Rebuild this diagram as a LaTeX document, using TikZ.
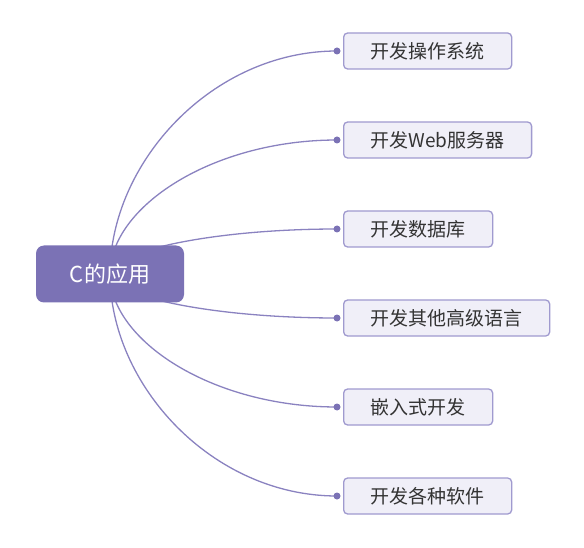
\documentclass[tikz,border=0pt]{standalone}
\usepackage{fontspec}
\setmainfont{Noto Sans CJK SC}
\usetikzlibrary{positioning,calc,backgrounds}
\definecolor{rootpurple}{HTML}{7B72B5}
\definecolor{linepurple}{HTML}{8A82C0}
\definecolor{leafborder}{HTML}{A09ACF}
\definecolor{leaffill}{HTML}{F0EFF8}
\definecolor{leaftext}{HTML}{333333}

\begin{document}
\begin{tikzpicture}[x=1pt, y=-1pt,
rootnode/.style={rectangle, rounded corners=8pt, fill=rootpurple, text=white, minimum width=148pt, minimum height=57pt, font=\fontsize{22}{26}\selectfont},
leafnode/.style={rectangle, rounded corners=4pt, draw=leafborder, line width=1.3pt, fill=leaffill, text=leaftext, minimum height=36pt, inner xsep=27pt, inner ysep=3pt, font=\fontsize{19}{23}\selectfont},
branch/.style={draw=linepurple, line width=1.3pt, to path={.. controls ($(\tikztostart)!0.5!(\tikztostart |- \tikztotarget)$) and ($(\tikztostart |- \tikztotarget)!0.45!(\tikztotarget)$) .. (\tikztotarget)}},
joint/.style={fill=rootpurple},
]
    \useasboundingbox (0,0) rectangle (584,548);
    \node[rootnode] (root) at (110,274) {C的应用};
    \node[leafnode, anchor=west] (os) at (343,51) {开发操作系统};
    \node[leafnode, below=51.7pt of os.south west, anchor=north west] (web) {开发Web服务器};
    \node[leafnode, below=51.7pt of web.south west, anchor=north west] (db) {开发数据库};
    \node[leafnode, below=51.7pt of db.south west, anchor=north west] (lang) {开发其他高级语言};
    \node[leafnode, below=51.7pt of lang.south west, anchor=north west] (embed) {嵌入式开发};
    \node[leafnode, below=51.7pt of embed.south west, anchor=north west] (soft) {开发各种软件};
    \coordinate (os-in) at ([xshift=-6pt]os.west);
    \coordinate (web-in) at ([xshift=-6pt]web.west);
    \coordinate (db-in) at ([xshift=-6pt]db.west);
    \coordinate (lang-in) at ([xshift=-6pt]lang.west);
    \coordinate (embed-in) at ([xshift=-6pt]embed.west);
    \coordinate (soft-in) at ([xshift=-6pt]soft.west);
    \begin{scope}[on background layer]
    \draw[branch] (root.center) to (os-in);
    \draw[branch] (root.center) to (web-in);
    \draw[branch] (root.center) to (db-in);
    \draw[branch] (root.center) to (lang-in);
    \draw[branch] (root.center) to (embed-in);
    \draw[branch] (root.center) to (soft-in);
    \fill[joint] (os-in) circle (3.5pt);
    \fill[joint] (web-in) circle (3.5pt);
    \fill[joint] (db-in) circle (3.5pt);
    \fill[joint] (lang-in) circle (3.5pt);
    \fill[joint] (embed-in) circle (3.5pt);
    \fill[joint] (soft-in) circle (3.5pt);
    \end{scope}
  \end{tikzpicture}
\end{document}
